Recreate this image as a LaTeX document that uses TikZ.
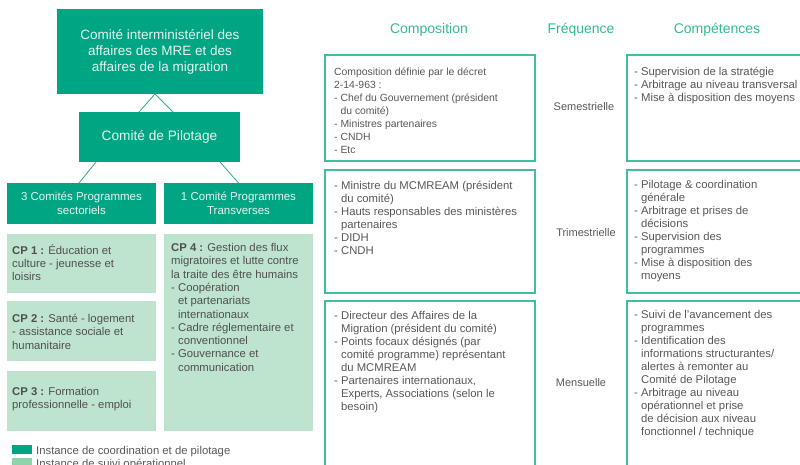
\documentclass[tikz,border=0pt]{standalone}
\usepackage{fontspec}
\setmainfont{Liberation Sans}
\definecolor{dkgreen}{HTML}{00A584}
\definecolor{ltgreen}{HTML}{BEE4CF}
\definecolor{mdgreen}{HTML}{8DD3AE}
\definecolor{frgreen}{HTML}{3EC09F}
\definecolor{lkgreen}{HTML}{2AAE8E}
\definecolor{hdgreen}{HTML}{33BA94}
\definecolor{txtgray}{HTML}{585858}
\definecolor{boxtext}{HTML}{E6F4EF}
\newcommand\ct{\hphantom{- }}
\tikzset{
  darkbox/.style={fill=dkgreen, draw=none, text=boxtext, align=center, inner sep=0pt, outer sep=0pt, anchor=north west},
  lightbox/.style={fill=ltgreen, draw=none, anchor=north west, inner sep=0pt, outer sep=0pt},
  framebox/.style={draw=frgreen, line width=1.4pt, anchor=north west, inner sep=0pt, outer sep=0pt},
  txt/.style={anchor=north west, inner sep=0pt, align=left, text=txtgray, font=\fontsize{11.3}{13}\selectfont},
  cptxt/.style={txt, text=txtgray!90!black, font=\fontsize{11.3}{13.3}\selectfont},
  link/.style={draw=lkgreen, line width=0.8pt},
  head/.style={text=hdgreen, font=\fontsize{14}{16}\selectfont, inner sep=0pt},
  freq/.style={text=txtgray, font=\fontsize{11}{13}\selectfont, inner sep=0pt},
  legsq/.style={anchor=north west, minimum width=20pt, minimum height=9pt, inner sep=0pt},
}
\begin{document}
\begin{tikzpicture}[x=1pt,y=-1pt]
\useasboundingbox (0,0) rectangle (800,464);
\clip (0,0) rectangle (800,464);
% left hierarchy
\node[darkbox, minimum width=206pt, minimum height=85pt, font=\fontsize{13.5}{16}\selectfont] (cim) at (57,9) {Comité interministériel des\\affaires des MRE et des\\affaires de la migration};
\node[darkbox, minimum width=161pt, minimum height=50pt, font=\fontsize{13.7}{16}\selectfont] (pil) at (79,112) {Comité de Pilotage};
\node[darkbox, minimum width=149pt, minimum height=41pt, font=\fontsize{11.5}{14}\selectfont] (sec) at (7,183) {3 Comités Programmes\\sectoriels};
\node[darkbox, minimum width=149pt, minimum height=41pt, font=\fontsize{11.5}{14}\selectfont] (tra) at (164,183) {1 Comité Programmes\\Transverses};
\draw[link] ([xshift=-5pt]cim.south) -- ([xshift=-20.5pt]pil.north);
\draw[link] ([xshift=-5pt]cim.south) -- ([xshift=13.5pt]pil.north);
\draw[link] ([xshift=17pt]pil.south west) -- ([xshift=-2.5pt]sec.north);
\draw[link] ([xshift=-20pt]pil.south east) -- (tra.north);
% light boxes
\node[lightbox, minimum width=149pt, minimum height=59pt] (cp1) at (7,234) {};
\node[lightbox, minimum width=149pt, minimum height=60pt] (cp2) at (7,301) {};
\node[lightbox, minimum width=149pt, minimum height=60pt] (cp3) at (7,371) {};
\node[lightbox, minimum width=149pt, minimum height=197pt] (cp4) at (164,234) {};
\node[cptxt] (cpt1) at (12,244) {\strut\textbf{CP 1 :} Éducation et\\culture - jeunesse et\\loisirs};
\node[cptxt] (cpt2) at (12,313) {\strut\textbf{CP 2 :} Santé - logement\\- assistance sociale et\\humanitaire};
\node[cptxt] (cpt3) at (12,386) {\strut\textbf{CP 3 :} Formation\\professionnelle - emploi};
\node[cptxt] (cpt4) at (171,242) {\strut\textbf{CP 4 :} Gestion des flux\\migratoires et lutte contre\\la traite des être humains\\- Coopération\\\ct et partenariats\\\ct internationaux\\- Cadre réglementaire et\\\ct conventionnel\\- Gouvernance et\\\ct communication};
% legend
\node[legsq, fill=dkgreen] (lg1) at (12,445) {};
\node[legsq, fill=mdgreen] (lg2) at (12,458) {};
\node[txt, anchor=base west] (lt1) at (36,454) {Instance de coordination et de pilotage};
\node[txt, anchor=base west] (lt2) at (36,467) {Instance de suivi opérationnel};
% headers
\node[head] (h1) at (429,30) {Composition};
\node[head] (h2) at (581,30) {Fréquence};
\node[head] (h3) at (717,30) {Compétences};
% frames
\node[framebox, minimum width=210pt, minimum height=106pt] (c1) at (325,55) {};
\node[framebox, minimum width=210pt, minimum height=123pt] (c2) at (325,170) {};
\node[framebox, minimum width=210pt, minimum height=200pt] (c3) at (325,301) {};
\node[framebox, minimum width=200pt, minimum height=106pt] (k1) at (627,55) {};
\node[framebox, minimum width=200pt, minimum height=123pt] (k2) at (627,170) {};
\node[framebox, minimum width=200pt, minimum height=200pt] (k3) at (627,301) {};
% frequencies
\node[freq] (f1) at (584,107) {Semestrielle};
\node[freq] (f2) at (586,233) {Trimestrielle};
\node[freq] (f3) at (581,383) {Mensuelle};
% composition texts
\node[txt, font=\fontsize{10.4}{13}\selectfont] (ct1) at (334,66) {\strut Composition définie par le décret\\2-14-963 :\\- Chef du Gouvernement (président\\\ct du comité)\\- Ministres partenaires\\- CNDH\\- Etc};
\node[txt] (ct2) at (334,180) {\strut- Ministre du MCMREAM (président\\\ct du comité)\\- Hauts responsables des ministères\\\ct partenaires\\- DIDH\\- CNDH};
\node[txt] (ct3) at (334,310) {\strut- Directeur des Affaires de la\\\ct Migration (président du comité)\\- Points focaux désignés (par\\\ct comité programme) représentant\\\ct du MCMREAM\\- Partenaires internationaux,\\\ct Experts, Associations (selon le\\\ct besoin)};
% competence texts
\node[txt] (kt1) at (634,66) {\strut- Supervision de la stratégie\\- Arbitrage au niveau transversal\\- Mise à disposition des moyens};
\node[txt] (kt2) at (634,179) {\strut- Pilotage \& coordination\\\ct générale\\- Arbitrage et prises de\\\ct décisions\\- Supervision des\\\ct programmes\\- Mise à disposition des\\\ct moyens};
\node[txt] (kt3) at (634,309) {\strut- Suivi de l’avancement des\\\ct programmes\\- Identification des\\\ct informations structurantes/\\\ct alertes à remonter au\\\ct Comité de Pilotage\\- Arbitrage au niveau\\\ct opérationnel et prise\\\ct de décision aux niveau\\\ct fonctionnel / technique};
\end{tikzpicture}
\end{document}
